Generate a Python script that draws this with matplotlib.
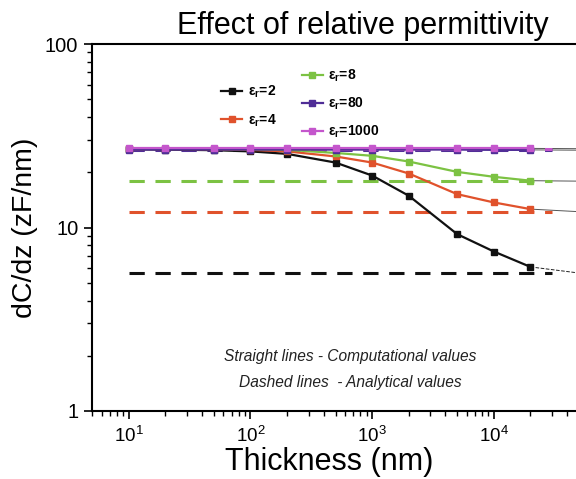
import matplotlib.pyplot as plt
import numpy as np
from matplotlib.ticker import LogLocator, NullFormatter, FixedLocator

plt.rcParams['font.family'] = ['Liberation Sans', 'DejaVu Sans']
plt.rcParams['mathtext.fontset'] = 'custom'
plt.rcParams['mathtext.rm'] = 'Liberation Sans'
plt.rcParams['mathtext.bf'] = 'Liberation Sans:bold'
plt.rcParams['mathtext.it'] = 'Liberation Sans:italic'

# thickness (nm)
thickness = [10, 20, 50, 100, 200, 500, 1000, 2000, 5000, 10000, 20000]

# computed dC/dz (zF/nm)
eps2 = [26.7, 26.6, 26.4, 26.0, 25.2, 22.6, 19.2, 14.9, 9.2, 7.4, 6.1]
eps4 = [26.8, 26.8, 26.7, 26.5, 26.0, 24.4, 22.6, 19.7, 15.2, 13.7, 12.6]
eps8 = [26.8, 26.8, 26.8, 26.7, 26.5, 25.5, 24.6, 22.9, 20.1, 18.9, 18.0]
eps80 = [26.6, 26.6, 26.6, 26.6, 26.6, 26.6, 26.6, 26.6, 26.6, 26.5, 26.5]
eps1000 = [27.0, 27.0, 27.0, 27.0, 27.0, 27.0, 27.0, 27.0, 27.0, 27.0, 27.0]

# analytical values
analytic = {'2': 5.65, '4': 12.2, '8': 17.9, '80': 26.4, '1000': 26.9}

labels = ['2', '4', '8', '80', '1000']
series = [eps2, eps4, eps8, eps80, eps1000]
colors = ['#111111', '#e0522c', '#7cc243', '#4f2d96', '#c456cc']

fig = plt.figure(figsize=(5.76, 4.79), dpi=100)
ax = fig.add_axes([0.160, 0.142, 0.845, 0.766])

handles = []
for lab, ys, c in zip(labels, series, colors):
    # analytical dashed line
    ax.plot([10, 30000], [analytic[lab]] * 2, color=c, lw=2.2,
            dashes=(5, 3.5), zorder=2)
    # thin continuation past the last point
    ax.plot([thickness[-1], 50000], [ys[-1], analytic[lab]],
            color='#555555' if lab != '2' else '#222222', lw=0.7,
            ls='--' if lab == '2' else '-', zorder=1)
    h, = ax.plot(thickness, ys, color=c, lw=1.6, marker='s', ms=3.8,
                 zorder=3)
    handles.append(h)

ax.set_xscale('log')
ax.set_yscale('log')
ax.set_xlim(5, 50000)
ax.set_ylim(1, 100)

ax.set_yticks([1, 10, 100])
ax.set_yticklabels(['1', '10', '100'])
ax.yaxis.set_minor_locator(LogLocator(base=10, subs=np.arange(2, 10)))
ax.yaxis.set_minor_formatter(NullFormatter())
ax.xaxis.set_major_locator(FixedLocator([10, 100, 1000, 10000]))
ax.set_xticklabels(['$\\mathregular{10^1}$', '$\\mathregular{10^2}$',
                    '$\\mathregular{10^3}$', '$\\mathregular{10^4}$'])
ax.xaxis.set_minor_locator(LogLocator(base=10, subs=np.arange(2, 10)))
ax.xaxis.set_minor_formatter(NullFormatter())

ax.tick_params(which='major', direction='out', length=6, width=1.2,
               labelsize=14.5, pad=4)
ax.tick_params(axis='x', which='major', labelsize=13.5, pad=5)
ax.tick_params(which='minor', direction='out', length=3.5, width=1)
for s in ['left', 'bottom', 'top']:
    ax.spines[s].set_linewidth(1.5)
ax.spines['right'].set_visible(False)

ax.set_xlabel('Thickness (nm)', fontsize=22)
ax.xaxis.set_label_coords(0.486, -0.097, transform=ax.transAxes)
ax.xaxis.label.set_va('top')
ax.set_ylabel('dC/dz (zF/nm)', fontsize=20.5, labelpad=5)
ax.set_title('Effect of relative permittivity', fontsize=22, pad=7,
             x=0.556)

names = ['ε$_\\mathbf{r}$=' + l for l in labels]
leg1 = ax.legend(handles[:2], names[:2], loc='upper left',
                 bbox_to_anchor=(0.24, 0.925), frameon=False,
                 handlelength=1.5, labelspacing=0.85, handletextpad=0.4,
                 prop={'size': 10, 'weight': 'bold'})
ax.add_artist(leg1)
ax.legend(handles[2:], names[2:], loc='upper left',
          bbox_to_anchor=(0.405, 0.97), frameon=False,
          handlelength=1.5, labelspacing=0.85, handletextpad=0.4,
          prop={'size': 10, 'weight': 'bold'})

ax.text(0.531, 0.148, 'Straight lines - Computational values',
        transform=ax.transAxes, ha='center', va='center', fontsize=11.2,
        style='italic', color='#222222')
ax.text(0.531, 0.078, 'Dashed lines  - Analytical values',
        transform=ax.transAxes, ha='center', va='center', fontsize=11.2,
        style='italic', color='#222222')

fig.savefig('out.png', dpi=100)
